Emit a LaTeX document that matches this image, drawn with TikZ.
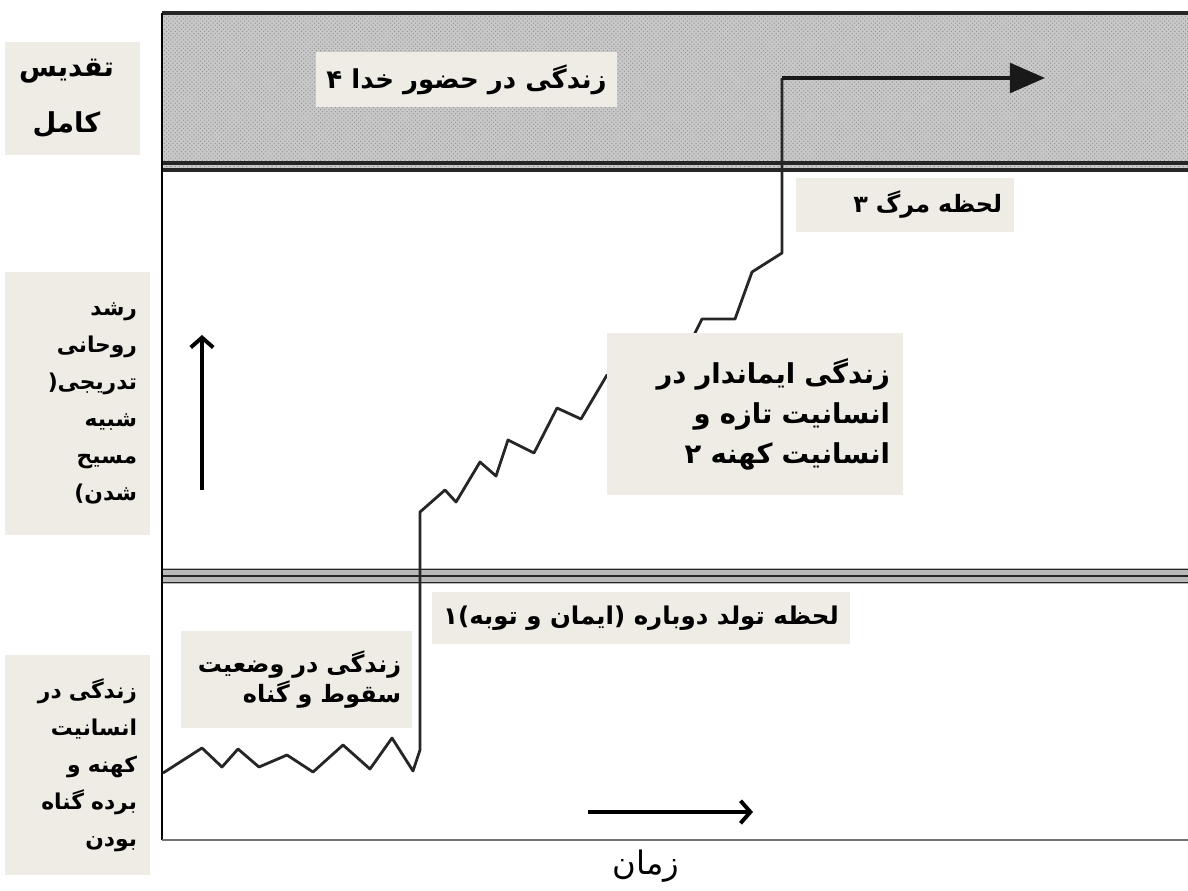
\documentclass[tikz,border=0pt]{standalone}
\usepackage{fontspec}
\usetikzlibrary{arrows.meta,patterns}
\newfontfamily\fa[Script=Arabic]{DejaVu Sans}
\TeXXeTstate=1
\definecolor{boxbg}{RGB}{238,236,228}
\tikzset{
  box/.style={fill=boxbg, inner sep=0pt, font=\fa\bfseries},
  life/.style={line width=2pt, black!85, line join=round},
  dir/.style={line width=2.8pt, -{Straight Barb[length=7pt,width=16pt]}},
  rule/.style={line width=1.4pt, black!85},
}

\begin{document}
\begin{tikzpicture}[x=0.025cm, y=-0.025cm]
	\useasboundingbox[fill=white] (0,0) rectangle (1188,890);

	% heaven band
	\fill[gray!42] (162,13) rectangle (1188,168);
	\fill[pattern=crosshatch dots, pattern color=gray!85] (162,13) rectangle (1188,168);
	\draw[line width=2.6pt, black!85] (162,13) -- (1188,13);
	\draw[line width=2.4pt, black!85] (162,163) -- (1188,163);
	\draw[line width=2.6pt, black!85] (162,170) -- (1188,170);

	% rebirth band
	\fill[gray!55] (162,568) rectangle (1188,584);
	\foreach \y in {569.5,576,582.5}
		\draw[rule] (162,\y) -- (1188,\y);

	\draw[line width=1.3pt] (162,13) -- (162,840);
	\draw[line width=1.8pt, black!55] (162,840) -- (1188,840);

	\coordinate (start) at (163,773);
	\coordinate (reborn) at (420,750);
	\coordinate (death) at (782,253);
	\coordinate (turn) at (782,78);
	\coordinate (goal) at (1045,78);

	\draw[life] (start) -- (202,748) -- (222,767) -- (238,749) -- (259,767)
		-- (287,755) -- (313,772) -- (343,745) -- (370,769) -- (392,738)
		-- (413,771) -- (reborn) -- (420,512) -- (445,490) -- (456,502)
		-- (480,462) -- (496,476) -- (508,440) -- (534,453) -- (557,408)
		-- (581,419) -- (607,375) -- (630,386) -- (655,350) -- (680,360)
		-- (695,333) -- (702,319) -- (735,319) -- (752,272) -- (death) -- (turn);
	\draw[line width=3pt, black!90, -{Triangle[length=25pt,width=21pt]}] (turn) -- (goal);

	\coordinate (up1) at (202,490);
	\coordinate (up2) at (202,335);
	\draw[dir] (up1) -- (up2);
	\coordinate (tm1) at (588,812);
	\coordinate (tm2) at (753,812);
	\draw[dir] (tm1) -- (tm2);

	\node[box, minimum width=3.375cm, minimum height=2.825cm, align=center,
		font=\fa\bfseries\fontsize{19.5}{40}\selectfont] (sanct) at (72.5,98.5) {
		\beginR تقدیس\endR\hspace*{0.3cm}\\
		\beginR کامل\endR\hspace*{0.3cm}
	};

	\node[box, minimum width=3.625cm, minimum height=6.575cm, text width=2.975cm, align=right,
		font=\fa\bfseries\fontsize{15.5}{26.3}\selectfont] (growth) at (77.5,403.5) {
		\beginR رشد\endR\\
		\beginR روحانی\endR\\
		\beginR تدریجی(\endR\\
		\beginR شبیه\endR\\
		\beginR مسیح\endR\\
		\beginR شدن)\endR
	};

	\node[box, minimum width=3.625cm, minimum height=5.5cm, text width=2.975cm, align=right,
		font=\fa\bfseries\fontsize{15.5}{26.3}\selectfont] (oldman) at (77.5,765) {
		\beginR زندگی در\endR\\
		\beginR انسانیت\endR\\
		\beginR کهنه و\endR\\
		\beginR برده گناه\endR\\
		\beginR بودن\endR
	};

	\node[box, minimum width=7.525cm, minimum height=1.375cm,
		font=\fa\bfseries\fontsize{18.5}{22}\selectfont] (presence) at (466.5,79.5) {
		\beginR زندگی در حضور خدا ۴\endR
	};

	\node[box, minimum width=5.45cm, minimum height=1.35cm, text width=4.85cm, align=right,
		font=\fa\bfseries\fontsize{17}{20}\selectfont] (mdeath) at (905,205) {
		\beginR لحظه مرگ ۳\endR
	};

	\node[box, minimum width=7.4cm, minimum height=4.05cm, text width=6.75cm, align=right,
		font=\fa\bfseries\fontsize{19.5}{28.5}\selectfont] (believer) at (755,414) {
		\beginR زندگی ایماندار در\endR\\
		\beginR انسانیت تازه و\endR\\
		\beginR انسانیت کهنه ۲\endR
	};

	\node[box, minimum width=10.45cm, minimum height=1.3cm,
		font=\fa\bfseries\fontsize{17.4}{20}\selectfont] (mbirth) at (641,618) {
		\beginR لحظه تولد دوباره (ایمان و توبه)۱\endR
	};

	\node[box, minimum width=5.775cm, minimum height=2.425cm, text width=5.225cm, align=right,
		font=\fa\bfseries\fontsize{17}{21.3}\selectfont] (fallen) at (296.5,679.5) {
		\beginR زندگی در وضعیت\endR\\
		\beginR سقوط و گناه\endR
	};

	\node[font=\fa\fontsize{23}{26}\selectfont] (time) at (646,866) {\beginR زمان\endR};
\end{tikzpicture}
\end{document}
